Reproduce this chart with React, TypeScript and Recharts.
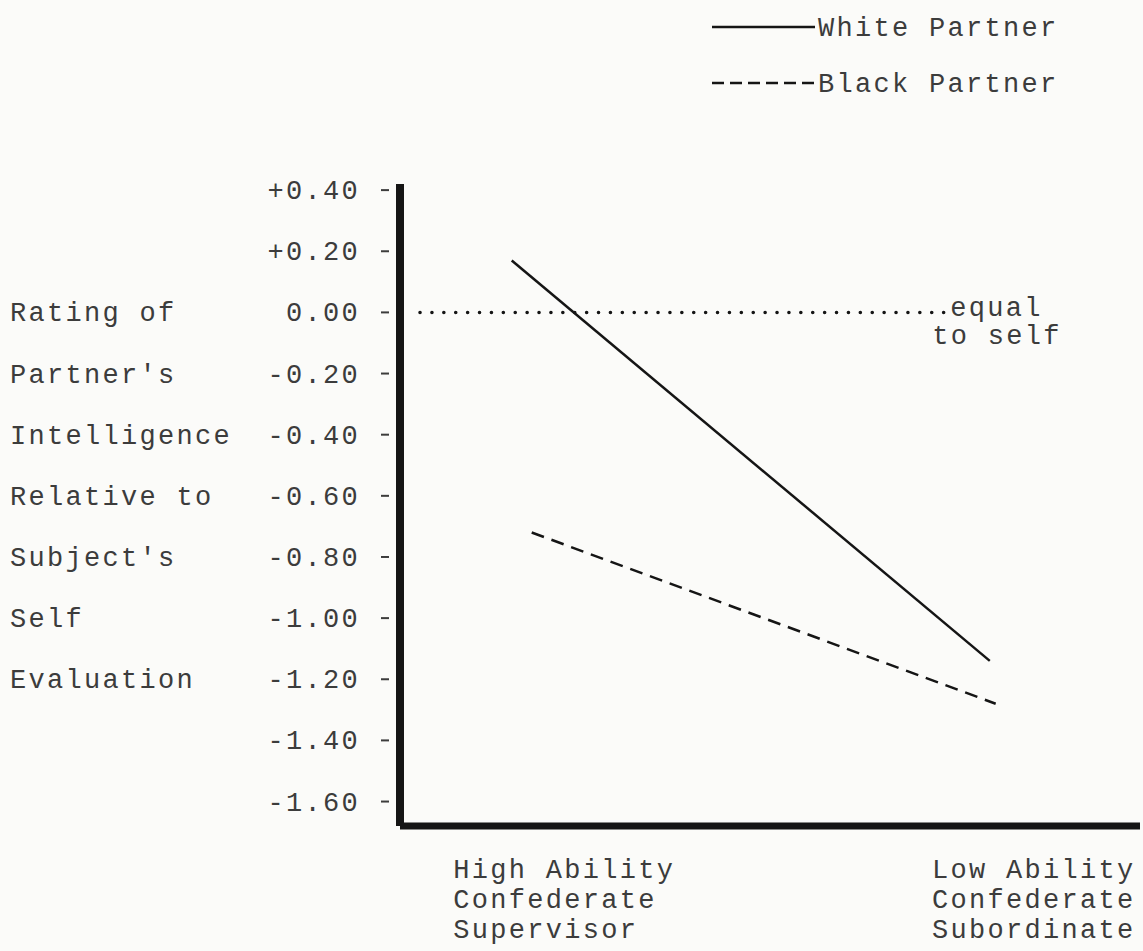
import React from "react";
import { LineChart, Line, XAxis, YAxis, ReferenceLine, Legend } from "recharts";

const FONT = "'Liberation Mono', 'DejaVu Sans Mono', monospace";
const INK = "#151515";
const TEXT = "#3c3c3c";

// Data
const categoryLines = [
  ["High Ability", "Confederate", "Supervisor"],
  ["Low Ability", "Confederate", "Subordinate"],
];
const categoryPos = [0.072, 0.719];
const whiteX = [0.151, 0.797];
const whiteY = [0.17, -1.14];
const blackX = [0.178, 0.805];
const blackY = [-0.72, -1.28];
const yTicks = [0.4, 0.2, 0, -0.2, -0.4, -0.6, -0.8, -1.0, -1.2, -1.4, -1.6];
const yTickLabels = ["+0.40", "+0.20", "0.00", "-0.20", "-0.40", "-0.60", "-0.80", "-1.00", "-1.20", "-1.40", "-1.60"];
const yTitleLines = ["Rating of", "Partner's", "Intelligence", "Relative to", "Subject's", "Self", "Evaluation"];
const equalLineX = [0.027, 0.741];
const equalLabel = ["equal", "to self"];
const seriesNames = ["White Partner", "Black Partner"];

const whiteData = whiteX.map((x, i) => ({ x, y: whiteY[i] }));
const blackData = blackX.map((x, i) => ({ x, y: blackY[i] }));

const textStyle = { fontFamily: FONT, fontSize: 27, letterSpacing: 2.3, fill: TEXT };

const YTick = (props: any) => {
  const { x, y, payload } = props;
  const idx = yTicks.findIndex((t) => Math.abs(t - payload.value) < 1e-6);
  const title = idx >= 2 ? yTitleLines[idx - 2] : undefined;
  return (
    <g>
      <text x={x - 40} y={y} dy={9} textAnchor="end" style={textStyle}>
        {yTickLabels[idx]}
      </text>
      <line x1={x - 19} x2={x - 11} y1={y} y2={y} stroke={TEXT} strokeWidth={2} />
      {title && (
        <text x={10} y={y} dy={9} textAnchor="start" style={textStyle}>
          {title}
        </text>
      )}
    </g>
  );
};

const XTick = (props: any) => {
  const { x, y, payload } = props;
  const idx = categoryPos.findIndex((t) => Math.abs(t - payload.value) < 1e-6);
  const lines = categoryLines[idx] || [];
  return (
    <text x={x} y={y + 50} textAnchor="start" style={textStyle}>
      {lines.map((l, i) => (
        <tspan key={i} x={x} dy={i === 0 ? 0 : 30}>
          {l}
        </tspan>
      ))}
    </text>
  );
};

const EqualLabel = (props: any) => {
  const vb = props.viewBox || {};
  const ex = (vb.x || 0) + (vb.width || 0);
  const y = vb.y || 0;
  return (
    <text x={ex + 2} y={y} style={textStyle}>
      <tspan x={ex + 2} dy={4}>{equalLabel[0]}</tspan>
      <tspan x={ex - 16} dy={28}>{equalLabel[1]}</tspan>
    </text>
  );
};

const LegendContent = () => (
  <svg width={443} height={110} style={{ display: "block" }}>
    <line x1={12} x2={115} y1={27} y2={27} stroke={INK} strokeWidth={2.5} />
    <text x={118} y={36} style={textStyle}>{seriesNames[0]}</text>
    <line x1={12} x2={115} y1={83} y2={83} stroke={INK} strokeWidth={2.5} strokeDasharray="12 6" />
    <text x={118} y={92} style={textStyle}>{seriesNames[1]}</text>
  </svg>
);

export default function App() {
  return (
    <div style={{ position: "absolute", left: 0, top: 0, width: 1143, height: 951, background: "#fbfbf9" }}>
      <LineChart
        width={1143}
        height={951}
        margin={{ top: 184, right: 3, bottom: 0, left: 0 }}
      >
        <XAxis
          type="number"
          dataKey="x"
          domain={[0, 1]}
          ticks={categoryPos}
          tick={<XTick />}
          tickLine={false}
          tickSize={0}
          axisLine={{ stroke: INK, strokeWidth: 7 }}
          height={125}
        />
        <YAxis
          type="number"
          domain={[-1.68, 0.42]}
          ticks={yTicks}
          tick={<YTick />}
          tickLine={false}
          tickSize={0}
          tickMargin={0}
          interval={0}
          width={400}
          axisLine={{ stroke: INK, strokeWidth: 8 }}
          allowDataOverflow
        />
        <ReferenceLine
          segment={[
            { x: equalLineX[0], y: 0 },
            { x: equalLineX[1], y: 0 },
          ]}
          stroke={INK}
          strokeWidth={3.5}
          strokeDasharray="0.1 11.8"
          strokeLinecap="round"
          label={<EqualLabel />}
        />
        <Line
          data={whiteData}
          dataKey="y"
          name={seriesNames[0]}
          stroke={INK}
          strokeWidth={2.5}
          dot={false}
          isAnimationActive={false}
        />
        <Line
          data={blackData}
          dataKey="y"
          name={seriesNames[1]}
          stroke={INK}
          strokeWidth={2.5}
          strokeDasharray="13 8"
          dot={false}
          isAnimationActive={false}
        />
        <Legend
          content={<LegendContent />}
          wrapperStyle={{ position: "absolute", top: 0, left: 700, width: 443, height: 0, overflow: "visible" }}
        />
      </LineChart>
    </div>
  );
}
